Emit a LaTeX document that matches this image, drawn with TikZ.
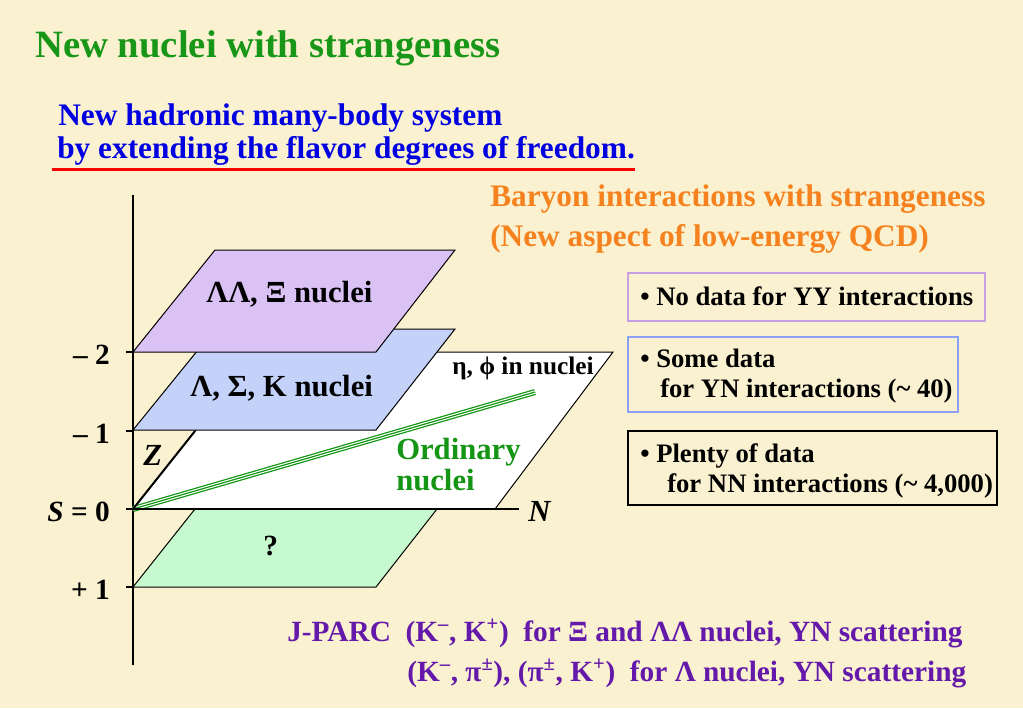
\documentclass[tikz,border=0pt]{standalone}
\usepackage{fontspec}
\setmainfont{Liberation Serif}
\usepackage{tikz}
\usetikzlibrary{positioning}
\definecolor{paper}{RGB}{250,241,208}
\definecolor{titlegreen}{RGB}{24,150,24}
\definecolor{subblue}{RGB}{0,0,225}
\definecolor{qcdorange}{RGB}{245,130,30}
\definecolor{jparc}{RGB}{100,25,170}
\definecolor{lilafill}{RGB}{218,194,245}
\definecolor{bluefill}{RGB}{196,210,250}
\definecolor{greenfill}{RGB}{198,250,206}
\definecolor{lilaline}{RGB}{200,160,225}
\definecolor{blueline}{RGB}{140,160,245}
\definecolor{nucgreen}{RGB}{20,150,20}

\begin{document}
\begin{tikzpicture}[x=0.75pt,y=-0.75pt,
		txt/.style={inner sep=0pt, anchor=base west, font=\bfseries\fontsize{#1}{#1}\selectfont},
		txt/.default=20,
		plane/.style={draw=black, line width=0.75pt},
		axis/.style={line width=1.5pt},
		infobox/.style={line width=1.5pt}
	]
	\fill[paper] (0,0) rectangle (1023,708);
	\useasboundingbox (0,0) rectangle (1023,708);

	\node[txt=29, text=titlegreen] (title) at (35,57) {New nuclei with strangeness};
	\node[txt=23.5, text=subblue] (sub1) at (58,125) {New hadronic many-body system};
	\node[txt=23.5, text=subblue] (sub2) at (57,158) {by extending the flavor degrees of freedom.};
	\draw[red, line width=2.25pt] ([xshift=-4pt,yshift=-3pt]sub2.south west) -- ([yshift=-3pt]sub2.south east);
	\node[txt=23.5, text=qcdorange] (bary) at (490,206) {Baryon interactions with strangeness};
	\node[txt=23.5, text=qcdorange] (qcd) at (490,246) {(New aspect of low-energy QCD)};

	\coordinate (O) at (133,509);
	\coordinate (Stop) at (133,195);
	\coordinate (Sbot) at (133,665);
	\coordinate (Nend) at (519,509);
	\coordinate (Zend) at (195,431);
	\coordinate (jet) at (535,392);

	\draw[axis] (Stop) -- (Sbot);
	\foreach \y/\lab in {352/{– 2}, 431/{– 1}, 509/{\textit{S} = 0}, 587/{+ 1}}{
		\draw[axis] (126,\y) -- (133,\y);
		\node[txt=22, anchor=base east] (tick\y) at (110,\y+12) {\lab};
	}

	\filldraw[plane, fill=greenfill] (133,587) -- (376,587) -- (437,509) -- (195,509) -- cycle;
	\filldraw[plane, fill=white] (O) -- (495,509) -- (613,352) -- (258,352) -- cycle;
	\draw[nucgreen, line width=4.5pt] (O) -- (jet);
	\draw[white, line width=2.6pt] (O) -- (jet);
	\draw[nucgreen, line width=0.9pt] (O) -- (jet);
	\filldraw[plane, fill=bluefill] (133,430) -- (376,430) -- (455,329) -- (215,329) -- cycle;
	\filldraw[plane, fill=lilafill] (133,352) -- (376,352) -- (455,250) -- (215,250) -- cycle;
	\draw[axis] (O) -- (Nend);
	\draw[axis] (O) -- (Zend);

	\node[txt=23] (ll) at (206,302) {ΛΛ, Ξ nuclei};
	\node[txt=23] (lsk) at (190,396) {Λ, Σ, Κ nuclei};
	\node[txt=19] (eta) at (452,374) {η, ϕ in nuclei};
	\node[txt=23, text=nucgreen] (ord) at (396,459) {Ordinary};
	\node[txt=23, text=nucgreen] (nuc) at (396,490) {nuclei};
	\node[txt=23] (zlab) at (143,465) {\textit{Z}};
	\node[txt=23] (nlab) at (528,521) {\textit{N}};
	\node[txt=22] (what) at (263,555) {?};

	\draw[infobox, draw=lilaline] (628,273) rectangle (985,321);
	\node[txt] (yy) at (640,305) {• No data for YY interactions};
	\draw[infobox, draw=blueline] (628,337) rectangle (958,412);
	\node[txt] (yn1) at (640,367) {• Some data};
	\node[txt] (yn2) at (660,397) {for YN interactions (\textasciitilde\ 40)};
	\draw[infobox, draw=black] (628,431) rectangle (997,505);
	\node[txt] (nn1) at (640,462) {• Plenty of data};
	\node[txt] (nn2) at (667,492) {for NN interactions (\textasciitilde\ 4,000)};

	\node[txt=22, text=jparc] (jp1) at (287,641) {J-PARC\ \ (K\textsuperscript{--}, K\textsuperscript{+})\ \ for Ξ and ΛΛ nuclei, YN scattering};
	\node[txt=22, text=jparc] (jp2) at (407,681) {(K\textsuperscript{--}, π\textsuperscript{±}), (π\textsuperscript{±}, K\textsuperscript{+})\ \ for Λ nuclei, YN scattering};
\end{tikzpicture}
\end{document}
